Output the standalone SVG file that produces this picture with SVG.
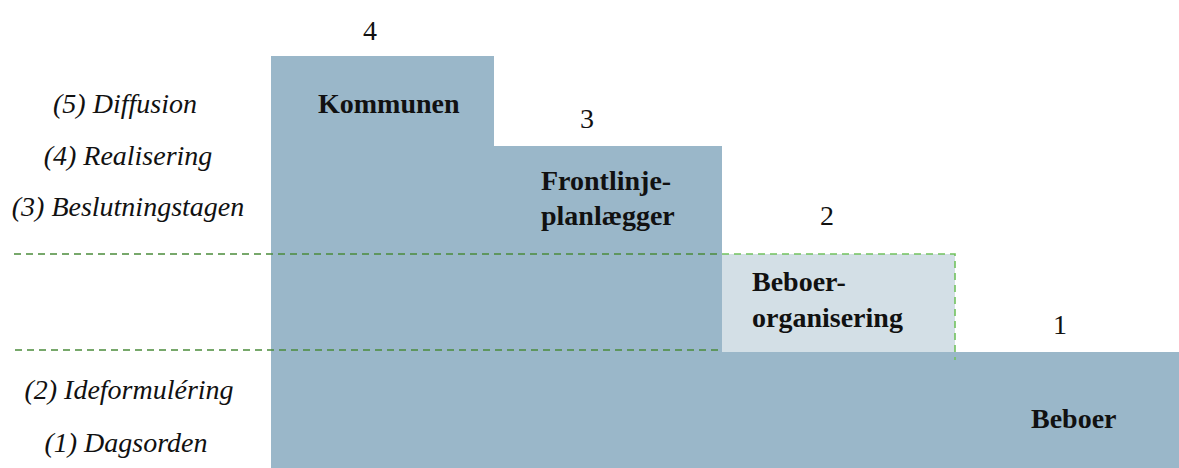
<svg xmlns="http://www.w3.org/2000/svg" width="1179" height="468" viewBox="0 0 1179 468">
<style>
.blk{fill:#9ab7c9}
.lt{fill:#d3dfe6}
.lbl{font-weight:bold;font-size:28px;fill:#111}
.num{font-size:28px;text-anchor:middle;fill:#111}
.ph{font-style:italic;font-size:28px;text-anchor:middle;fill:#111}
.dk{stroke:#4b8c3b;stroke-width:1.6;stroke-dasharray:7 5;fill:none}
.lg{stroke:#72c25f;stroke-width:1.6;stroke-dasharray:7 5;fill:none}
</style>
<rect width="1179" height="468" fill="#fff"/>
<g font-family="Liberation Serif, serif">
<g id="kommunen">
<rect class="blk" x="271" y="56" width="223" height="412"/>
<text class="num" x="370" y="40">4</text>
<text class="lbl" x="318" y="113">Kommunen</text>
</g>
<g id="frontlinjeplanlaegger">
<rect class="blk" x="494" y="146" width="228" height="322"/>
<text class="num" x="587" y="128">3</text>
<text class="lbl" x="541" y="190">Frontlinje-</text>
<text class="lbl" x="541" y="225">planlægger</text>
</g>
<g id="beboer">
<rect class="blk" x="722" y="352" width="457" height="116"/>
<text class="num" x="1060" y="334">1</text>
<text class="lbl" x="1031" y="428">Beboer</text>
</g>
<g id="beboerorganisering">
<rect class="lt" x="722" y="254" width="233" height="98"/>
<text class="num" x="827" y="225">2</text>
<text class="lbl" x="752" y="291">Beboer-</text>
<text class="lbl" x="752" y="327">organisering</text>
</g>
<g id="phases">
<text class="ph" x="125" y="113">(5) Diffusion</text>
<text class="ph" x="128" y="165">(4) Realisering</text>
<text class="ph" x="128" y="216">(3) Beslutningstagen</text>
<text class="ph" x="129" y="399">(2) Ideformuléring</text>
<text class="ph" x="126" y="452">(1) Dagsorden</text>
</g>
</g>
<g id="connectors">
<line class="dk" x1="14" y1="254" x2="722" y2="254"/>
<line class="dk" x1="15" y1="350" x2="722" y2="350"/>
<polyline class="lg" points="722,254 955,254 955,360"/>
</g>
</svg>
